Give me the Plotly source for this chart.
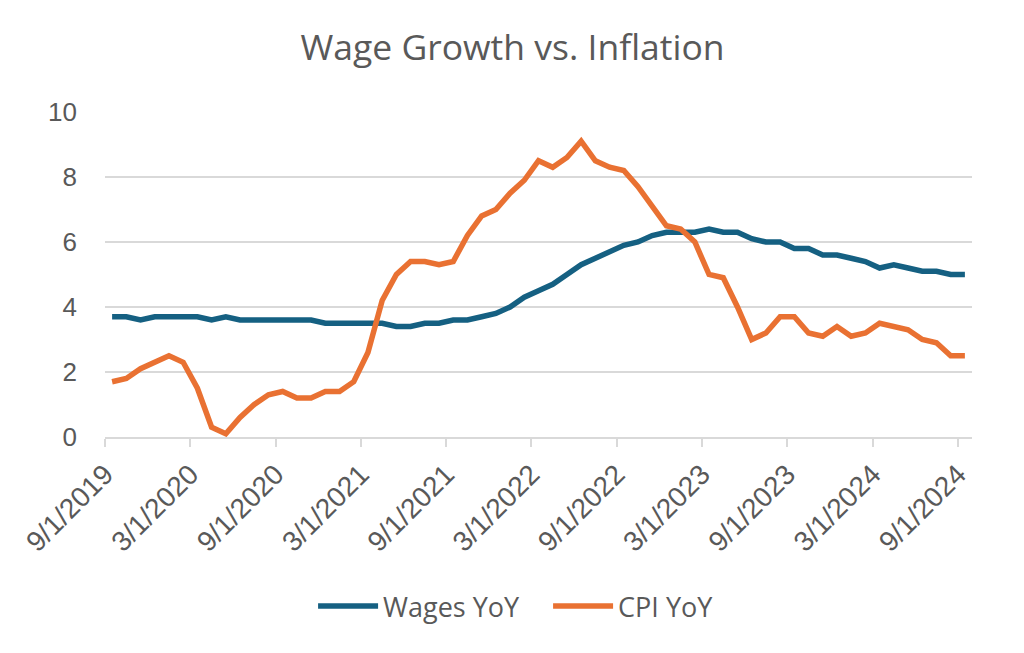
import plotly.graph_objects as go

dates = [
    "9/1/2019", "10/1/2019", "11/1/2019", "12/1/2019",
    "1/1/2020", "2/1/2020", "3/1/2020", "4/1/2020", "5/1/2020", "6/1/2020",
    "7/1/2020", "8/1/2020", "9/1/2020", "10/1/2020", "11/1/2020", "12/1/2020",
    "1/1/2021", "2/1/2021", "3/1/2021", "4/1/2021", "5/1/2021", "6/1/2021",
    "7/1/2021", "8/1/2021", "9/1/2021", "10/1/2021", "11/1/2021", "12/1/2021",
    "1/1/2022", "2/1/2022", "3/1/2022", "4/1/2022", "5/1/2022", "6/1/2022",
    "7/1/2022", "8/1/2022", "9/1/2022", "10/1/2022", "11/1/2022", "12/1/2022",
    "1/1/2023", "2/1/2023", "3/1/2023", "4/1/2023", "5/1/2023", "6/1/2023",
    "7/1/2023", "8/1/2023", "9/1/2023", "10/1/2023", "11/1/2023", "12/1/2023",
    "1/1/2024", "2/1/2024", "3/1/2024", "4/1/2024", "5/1/2024", "6/1/2024",
    "7/1/2024", "8/1/2024", "9/1/2024",
]

wages_yoy = [
    3.7, 3.7, 3.6, 3.7,
    3.7, 3.7, 3.7, 3.6, 3.7, 3.6,
    3.6, 3.6, 3.6, 3.6, 3.6, 3.5,
    3.5, 3.5, 3.5, 3.5, 3.4, 3.4,
    3.5, 3.5, 3.6, 3.6, 3.7, 3.8,
    4.0, 4.3, 4.5, 4.7, 5.0, 5.3,
    5.5, 5.7, 5.9, 6.0, 6.2, 6.3,
    6.3, 6.3, 6.4, 6.3, 6.3, 6.1,
    6.0, 6.0, 5.8, 5.8, 5.6, 5.6,
    5.5, 5.4, 5.2, 5.3, 5.2, 5.1,
    5.1, 5.0, 5.0,
]

cpi_yoy = [
    1.7, 1.8, 2.1, 2.3,
    2.5, 2.3, 1.5, 0.3, 0.1, 0.6,
    1.0, 1.3, 1.4, 1.2, 1.2, 1.4,
    1.4, 1.7, 2.6, 4.2, 5.0, 5.4,
    5.4, 5.3, 5.4, 6.2, 6.8, 7.0,
    7.5, 7.9, 8.5, 8.3, 8.6, 9.1,
    8.5, 8.3, 8.2, 7.7, 7.1, 6.5,
    6.4, 6.0, 5.0, 4.9, 4.0, 3.0,
    3.2, 3.7, 3.7, 3.2, 3.1, 3.4,
    3.1, 3.2, 3.5, 3.4, 3.3, 3.0,
    2.9, 2.5, 2.5,
]

y_ticks = [0, 2, 4, 6, 8, 10]
label_every = 6

idx = list(range(len(dates)))
tick_pos = [i - 0.5 for i in idx[::label_every]]
tick_txt = dates[::label_every]

fig = go.Figure()
fig.add_trace(go.Scatter(x=idx, y=wages_yoy, mode="lines", name="Wages YoY",
                         line=dict(color="#156082", width=5.5), customdata=dates,
                         hovertemplate="%{customdata}: %{y}<extra>Wages YoY</extra>"))
fig.add_trace(go.Scatter(x=idx, y=cpi_yoy, mode="lines", name="CPI YoY",
                         line=dict(color="#E97132", width=5.5), customdata=dates,
                         hovertemplate="%{customdata}: %{y}<extra>CPI YoY</extra>"))

fig.update_layout(
    width=1024, height=653,
    paper_bgcolor="white", plot_bgcolor="white",
    margin=dict(l=97, r=60, t=104, b=224, autoexpand=False),
    title=dict(text="Wage Growth vs. Inflation", x=0.4927, xanchor="center",
               y=0.9387, yanchor="middle",
               font=dict(family="Open Sans", size=35.5, color="#595959")),
    showlegend=True,
    legend=dict(orientation="h", x=0.240, xanchor="left", y=-0.446, yanchor="top",
                font=dict(family="Open Sans", size=27, color="#595959"),
                itemwidth=60, tracegroupgap=0, entrywidth=160, entrywidthmode="pixels"),
    xaxis=dict(range=[-0.5, len(dates) - 0.5], tickmode="array", tickvals=tick_pos,
               ticktext=tick_txt, tickangle=-45, showgrid=False, zeroline=False,
               automargin=False, ticklabelstandoff=0,
               showline=True, linecolor="#D9D9D9", linewidth=1.5,
               ticks="outside", ticklen=8, tickcolor="#D9D9D9", tickwidth=1.5,
               tickfont=dict(family="Liberation Sans", size=28, color="#595959")),
    yaxis=dict(range=[0, 10], tickmode="array", tickvals=y_ticks,
               showgrid=True, gridcolor="#D9D9D9", gridwidth=1.5, zeroline=False,
               automargin=False,
               showline=False, ticks="", ticklabelstandoff=27,
               tickfont=dict(family="Liberation Sans", size=26, color="#595959")),
)

fig.write_html("out.html")
